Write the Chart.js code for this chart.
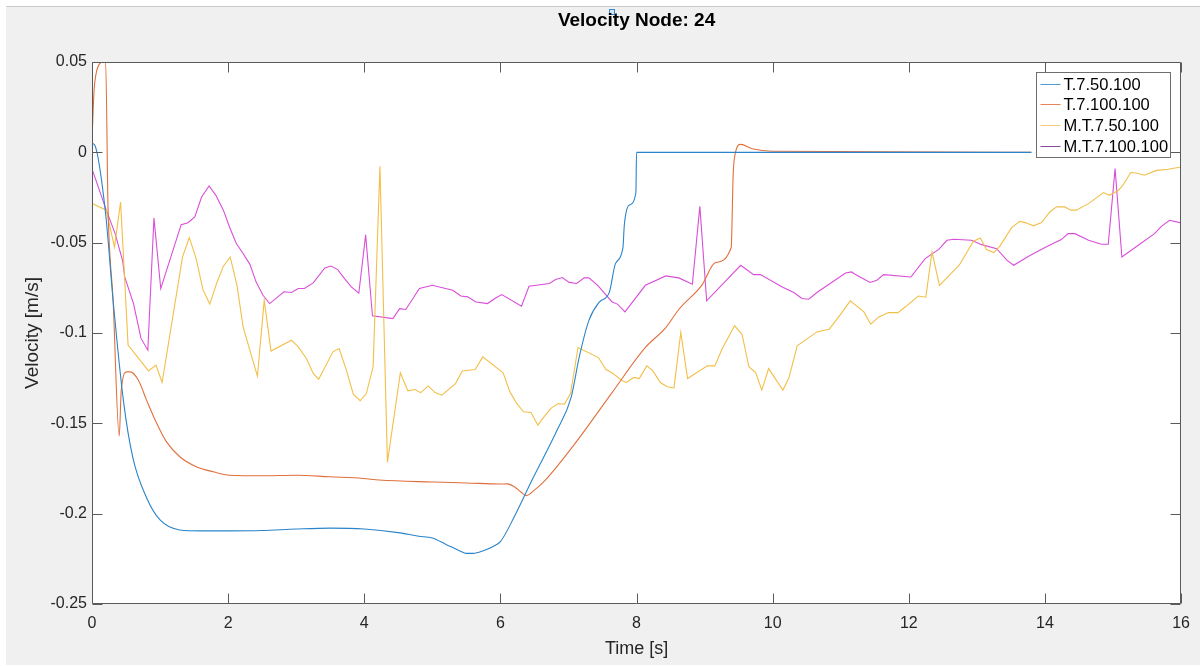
<!DOCTYPE html>
<html>
<head>
<meta charset="utf-8">
<title>Velocity Node: 24</title>
<script src="https://cdn.jsdelivr.net/npm/chart.js@4/dist/chart.umd.min.js"></script>
<style>
  html, body { margin: 0; padding: 0; background: #ffffff; }
  #plot { display: block; }
</style>
</head>
<body>
<canvas id="plot" width="1200" height="666"></canvas>
<script>
// Axis ticks
const xTicks = [0, 2, 4, 6, 8, 10, 12, 14, 16];
const yTicks = [-0.25, -0.2, -0.15, -0.1, -0.05, 0, 0.05];

// Texts
const plotTitle = 'Velocity Node: 24';
const seriesNames = ['T.7.50.100', 'T.7.100.100', 'M.T.7.50.100', 'M.T.7.100.100'];

// T.7.50.100 : time [s] / velocity [m/s]
const timeT50 = [0, 0.04, 0.2, 0.31, 0.46, 0.6, 0.8, 1.0, 1.29, 1.6, 2.0, 2.5, 3.0, 3.5, 4.0, 4.5, 4.8, 5.0,
  5.2, 5.4, 5.5, 5.6, 5.75, 5.9, 6.0, 6.2, 6.47, 6.83, 7.04, 7.16, 7.3, 7.45, 7.6, 7.69, 7.8, 7.82, 7.89,
  7.99, 8.0, 9.0, 10.0, 12.0, 13.8];
const velT50 = [0.005, 0.004, -0.034, -0.082, -0.137, -0.169, -0.191, -0.2035, -0.209, -0.2095, -0.2095,
  -0.2093, -0.2085, -0.208, -0.2085, -0.2105, -0.2125, -0.2135, -0.217, -0.2205, -0.222, -0.222, -0.2205,
  -0.218, -0.2155, -0.202, -0.181, -0.154, -0.1355, -0.113, -0.093, -0.083, -0.0775, -0.0616, -0.0527,
  -0.0404, -0.0293, -0.0225, 0, 0, 0, 0, 0];

// T.7.100.100
const timeT100 = [0, 0.03, 0.06, 0.11, 0.2, 0.235, 0.31, 0.4, 0.43, 0.51, 0.56, 0.68, 0.8, 0.95, 1.09, 1.29,
  1.53, 1.78, 2.02, 2.51, 3.0, 3.49, 3.98, 4.22, 5.0, 5.5, 6.0, 6.1, 6.2, 6.3, 6.38, 6.5, 6.67, 7.1, 7.64,
  8.13, 8.43, 8.62, 8.96, 9.16, 9.39, 9.42, 9.45, 9.53, 9.7, 9.99, 13.8];
const velT100 = [0.0066, 0.034, 0.0435, 0.049, 0.0505, -0.03, -0.082, -0.157, -0.1316, -0.1215, -0.1215,
  -0.126, -0.137, -0.15, -0.16, -0.1685, -0.174, -0.1768, -0.1787, -0.179, -0.1787, -0.1796, -0.1805,
  -0.1814, -0.1825, -0.183, -0.1836, -0.1835, -0.185, -0.188, -0.19, -0.187, -0.181, -0.161, -0.133,
  -0.108, -0.097, -0.087, -0.0735, -0.061, -0.0527, -0.0118, -0.0007, 0.0044, 0.002, 0.0006, 0];

// M.T.7.50.100
const timeMT50 = [0.01, 0.21, 0.33, 0.42, 0.53, 0.83, 0.94, 1.03, 1.33, 1.43, 1.53, 1.63, 1.73, 1.83, 1.93,
  2.03, 2.13, 2.22, 2.34, 2.43, 2.53, 2.63, 2.93, 3.03, 3.15, 3.25, 3.33, 3.54, 3.63, 3.73, 3.84, 3.94,
  4.03, 4.13, 4.23, 4.34, 4.53, 4.64, 4.74, 4.83, 4.94, 5.04, 5.14, 5.34, 5.44, 5.63, 5.74, 6.04, 6.14,
  6.24, 6.34, 6.45, 6.55, 6.64, 6.75, 6.85, 6.94, 7.03, 7.14, 7.44, 7.55, 7.64, 7.79, 7.85, 7.96, 8.04,
  8.15, 8.24, 8.35, 8.45, 8.55, 8.65, 8.75, 9.04, 9.15, 9.26, 9.44, 9.55, 9.65, 9.75, 9.84, 9.94, 10.15,
  10.24, 10.36, 10.65, 10.83, 10.97, 11.14, 11.34, 11.44, 11.56, 11.7, 11.84, 11.95, 12.14, 12.25, 12.34,
  12.45, 12.74, 12.95, 13.05, 13.14, 13.25, 13.34, 13.51, 13.63, 13.71, 13.83, 13.95, 14.07, 14.17, 14.29,
  14.38, 14.46, 14.64, 14.86, 14.95, 15.08, 15.15, 15.26, 15.34, 15.46, 15.64, 15.81, 16.0];
const velMT50 = [-0.0284, -0.032, -0.0524, -0.0275, -0.1067, -0.121, -0.1178, -0.1274, -0.0579, -0.0472,
  -0.0588, -0.076, -0.084, -0.0726, -0.063, -0.0579, -0.0736, -0.0966, -0.1123, -0.1239, -0.0819, -0.11,
  -0.104, -0.1077, -0.1141, -0.1224, -0.1256, -0.1104, -0.1086, -0.1197, -0.134, -0.1375, -0.1335,
  -0.1187, -0.0077, -0.1716, -0.122, -0.132, -0.1313, -0.133, -0.1293, -0.133, -0.1344, -0.128, -0.121,
  -0.1202, -0.1132, -0.122, -0.1326, -0.139, -0.1436, -0.144, -0.151, -0.1464, -0.1414, -0.139, -0.1394,
  -0.1335, -0.108, -0.1136, -0.1202, -0.122, -0.1265, -0.1274, -0.1246, -0.1252, -0.1182, -0.121,
  -0.1274, -0.1298, -0.1304, -0.0997, -0.1252, -0.1182, -0.1182, -0.1086, -0.096, -0.1007, -0.1187,
  -0.1219, -0.1316, -0.1197, -0.1316, -0.1246, -0.1071, -0.0994, -0.0979, -0.0911, -0.0822, -0.0883,
  -0.0951, -0.0911, -0.0887, -0.0887, -0.0855, -0.0795, -0.0802, -0.0551, -0.0736, -0.0625, -0.0492,
  -0.0474, -0.0538, -0.0555, -0.0518, -0.0417, -0.0382, -0.0389, -0.0407, -0.0389, -0.033, -0.0302,
  -0.0302, -0.032, -0.032, -0.0284, -0.0223, -0.0238, -0.021, -0.0179, -0.0112, -0.0114, -0.0127, -0.01,
  -0.0094, -0.0081];

// M.T.7.100.100
const timeMT100 = [0.01, 0.21, 0.34, 0.45, 0.48, 0.61, 0.72, 0.82, 0.91, 1.01, 1.31, 1.41, 1.51, 1.61, 1.72,
  1.82, 1.93, 2.02, 2.12, 2.22, 2.32, 2.41, 2.51, 2.61, 2.73, 2.82, 2.93, 3.03, 3.12, 3.25, 3.42, 3.51,
  3.61, 3.71, 3.81, 3.92, 4.02, 4.12, 4.42, 4.52, 4.61, 4.81, 5.0, 5.3, 5.42, 5.52, 5.64, 5.81, 5.93, 6.02,
  6.31, 6.42, 6.72, 6.81, 6.91, 7.01, 7.12, 7.23, 7.3, 7.43, 7.64, 7.72, 7.83, 8.13, 8.43, 8.62, 8.82,
  8.93, 9.03, 9.53, 9.72, 9.82, 10.14, 10.31, 10.43, 10.53, 10.65, 11.07, 11.16, 11.21, 11.43, 11.53,
  11.63, 12.03, 12.24, 12.44, 12.56, 12.66, 12.92, 13.07, 13.29, 13.44, 13.54, 13.76, 14.0, 14.24, 14.34,
  14.44, 14.64, 14.83, 14.93, 15.03, 15.13, 15.37, 15.61, 15.71, 15.83, 15.98, 16.0];
const velMT100 = [-0.0103, -0.032, -0.045, -0.06, -0.069, -0.0837, -0.103, -0.1095, -0.0363, -0.0754,
  -0.04, -0.039, -0.0358, -0.0247, -0.0186, -0.0238, -0.032, -0.0413, -0.0505, -0.056, -0.062, -0.0717,
  -0.079, -0.0837, -0.08, -0.0772, -0.0776, -0.0754, -0.0754, -0.0723, -0.064, -0.0629, -0.0649, -0.0699,
  -0.0745, -0.078, -0.0457, -0.0905, -0.092, -0.0865, -0.087, -0.0754, -0.0736, -0.0763, -0.0795, -0.08,
  -0.0828, -0.0837, -0.0806, -0.0787, -0.0852, -0.0741, -0.0726, -0.0704, -0.0693, -0.072, -0.0726,
  -0.0695, -0.0695, -0.0736, -0.0828, -0.084, -0.0883, -0.0736, -0.0684, -0.0695, -0.073, -0.0299,
  -0.0822, -0.0625, -0.0677, -0.0677, -0.0745, -0.0776, -0.0809, -0.0813, -0.0776, -0.0668, -0.0662,
  -0.0675, -0.072, -0.0708, -0.0677, -0.069, -0.0588, -0.0537, -0.0487, -0.0481, -0.0487, -0.0511,
  -0.0533, -0.0597, -0.0625, -0.0575, -0.0527, -0.0483, -0.045, -0.045, -0.0487, -0.0509, -0.0509,
  -0.009, -0.0579, -0.0514, -0.045, -0.041, -0.0376, -0.0389, -0.039];

const pairs = (ts, vs) => ts.map((t, i) => ({ x: t, y: vs[i] }));

const FONT = "'Liberation Sans', Arial, Helvetica, sans-serif";
const AXIS_COLOR = '#262626';

// Figure background: white margin, grey figure panel, white axes area
const figureBackground = {
  id: 'figureBackground',
  beforeDraw(chart) {
    const ctx = chart.ctx;
    ctx.save();
    ctx.fillStyle = '#ffffff';
    ctx.fillRect(0, 0, chart.width, chart.height);
    ctx.fillStyle = '#f0f0f0';
    ctx.fillRect(6, 7, chart.width - 6, chart.height - 8);
    ctx.fillStyle = '#c9c9c9';
    ctx.fillRect(6, 6, chart.width - 6, 1);
    // small selection handle above the title
    ctx.fillStyle = '#d6e8f7';
    ctx.fillRect(609.5, 9.5, 5, 5);
    ctx.strokeStyle = '#3a86c8';
    ctx.lineWidth = 1;
    ctx.strokeRect(609.5, 9.5, 5, 5);
    const a = chart.chartArea;
    ctx.fillStyle = '#ffffff';
    ctx.fillRect(a.left, a.top, a.right - a.left, a.bottom - a.top);
    ctx.restore();
  }
};

// Title centred over the axes
const axesTitle = {
  id: 'axesTitle',
  afterDraw(chart) {
    const ctx = chart.ctx;
    const a = chart.chartArea;
    ctx.save();
    ctx.font = 'bold 19px ' + FONT;
    ctx.fillStyle = '#000000';
    ctx.textAlign = 'center';
    ctx.textBaseline = 'middle';
    ctx.fillText(plotTitle, (a.left + a.right) / 2, 21);
    ctx.restore();
  }
};

// Boxed axes with inward tick marks on all four sides
const axesBox = {
  id: 'axesBox',
  afterDatasetsDraw(chart) {
    const ctx = chart.ctx;
    const a = chart.chartArea;
    const xs = chart.scales.x, ys = chart.scales.y;
    const L = Math.round(a.left) + 0.5, R = Math.round(a.right) - 0.5;
    const T = Math.round(a.top) + 0.5, B = Math.round(a.bottom) - 0.5;
    const len = 10;
    ctx.save();
    ctx.strokeStyle = '#5a5a5a';
    ctx.lineWidth = 1;
    ctx.beginPath();
    ctx.rect(L, T, R - L, B - T);
    xs.ticks.forEach(t => {
      const px = Math.round(xs.getPixelForValue(t.value)) + 0.5;
      ctx.moveTo(px, B); ctx.lineTo(px, B - len);
      ctx.moveTo(px, T); ctx.lineTo(px, T + len);
    });
    ys.ticks.forEach(t => {
      const py = Math.round(ys.getPixelForValue(t.value)) + 0.5;
      ctx.moveTo(L, py); ctx.lineTo(L + len, py);
      ctx.moveTo(R, py); ctx.lineTo(R - len, py);
    });
    ctx.stroke();
    ctx.restore();
  }
};

// Legend box in the upper right corner of the axes
const boxLegend = {
  id: 'boxLegend',
  afterDraw(chart) {
    const ctx = chart.ctx;
    const a = chart.chartArea;
    const x0 = Math.round(a.right) - 144.5, y0 = Math.round(a.top) + 10.5;
    const w = 134, h = 85;
    ctx.save();
    ctx.fillStyle = '#ffffff';
    ctx.fillRect(x0, y0, w, h);
    ctx.strokeStyle = '#6e6e6e';
    ctx.lineWidth = 1;
    ctx.strokeRect(x0, y0, w, h);
    ctx.font = '16.5px ' + FONT;
    ctx.textBaseline = 'middle';
    ctx.textAlign = 'left';
    chart.data.datasets.forEach((ds, i) => {
      const cy = Math.round(y0 + 11 + i * 20.7) + 0.5;
      ctx.strokeStyle = ds.legendColor || ds.borderColor;
      ctx.beginPath();
      ctx.moveTo(x0 + 4, cy);
      ctx.lineTo(x0 + 24, cy);
      ctx.stroke();
      ctx.fillStyle = '#000000';
      ctx.fillText(ds.label, x0 + 27, cy + 1);
    });
    ctx.restore();
  }
};

const lineStyle = { pointRadius: 0, pointHoverRadius: 0, borderWidth: 1.1, fill: false };

new Chart(document.getElementById('plot'), {
  type: 'line',
  data: {
    datasets: [
      Object.assign({ label: seriesNames[0], data: pairs(timeT50, velT50),
        borderColor: '#2a84c9', legendColor: '#4f9bd6', cubicInterpolationMode: 'monotone' }, lineStyle),
      Object.assign({ label: seriesNames[1], data: pairs(timeT100, velT100),
        borderColor: '#e0703c', legendColor: '#e8825a', cubicInterpolationMode: 'monotone' }, lineStyle),
      Object.assign({ label: seriesNames[2], data: pairs(timeMT50, velMT50),
        borderColor: '#f2bf48', legendColor: '#f5cd72', tension: 0 }, lineStyle),
      Object.assign({ label: seriesNames[3], data: pairs(timeMT100, velMT100),
        borderColor: '#d94ed9', legendColor: '#8a4a9a', tension: 0 }, lineStyle)
    ]
  },
  options: {
    responsive: false,
    animation: false,
    events: [],
    layout: { padding: { left: 0, right: 17, top: 62, bottom: 0 } },
    plugins: {
      legend: { display: false },
      tooltip: { enabled: false },
      title: { display: false }
    },
    scales: {
      x: {
        type: 'linear',
        min: 0, max: 16,
        afterBuildTicks: s => { s.ticks = xTicks.map(v => ({ value: v })); },
        afterFit: s => { s.height = 62; },
        grid: { display: false, drawTicks: false },
        border: { display: false },
        ticks: { color: AXIS_COLOR, font: { family: FONT, size: 16 }, padding: 10, maxRotation: 0,
          callback: v => String(v) },
        title: { display: true, text: 'Time [s]', color: AXIS_COLOR,
          font: { family: FONT, size: 18 }, padding: { top: 0, bottom: 6.2 } }
      },
      y: {
        type: 'linear',
        min: -0.25, max: 0.05,
        afterBuildTicks: s => { s.ticks = yTicks.map(v => ({ value: v })); },
        afterFit: s => { s.width = 92; },
        grid: { display: false, drawTicks: false },
        border: { display: false },
        ticks: { color: AXIS_COLOR, font: { family: FONT, size: 16 }, padding: 5,
          callback: v => String(parseFloat(Number(v).toFixed(2))) },
        title: { display: true, text: 'Velocity [m/s]', color: AXIS_COLOR,
          font: { family: FONT, size: 19 }, padding: { top: 21.6, bottom: 0 } }
      }
    }
  },
  plugins: [figureBackground, axesBox, boxLegend, axesTitle]
});
</script>
</body>
</html>
